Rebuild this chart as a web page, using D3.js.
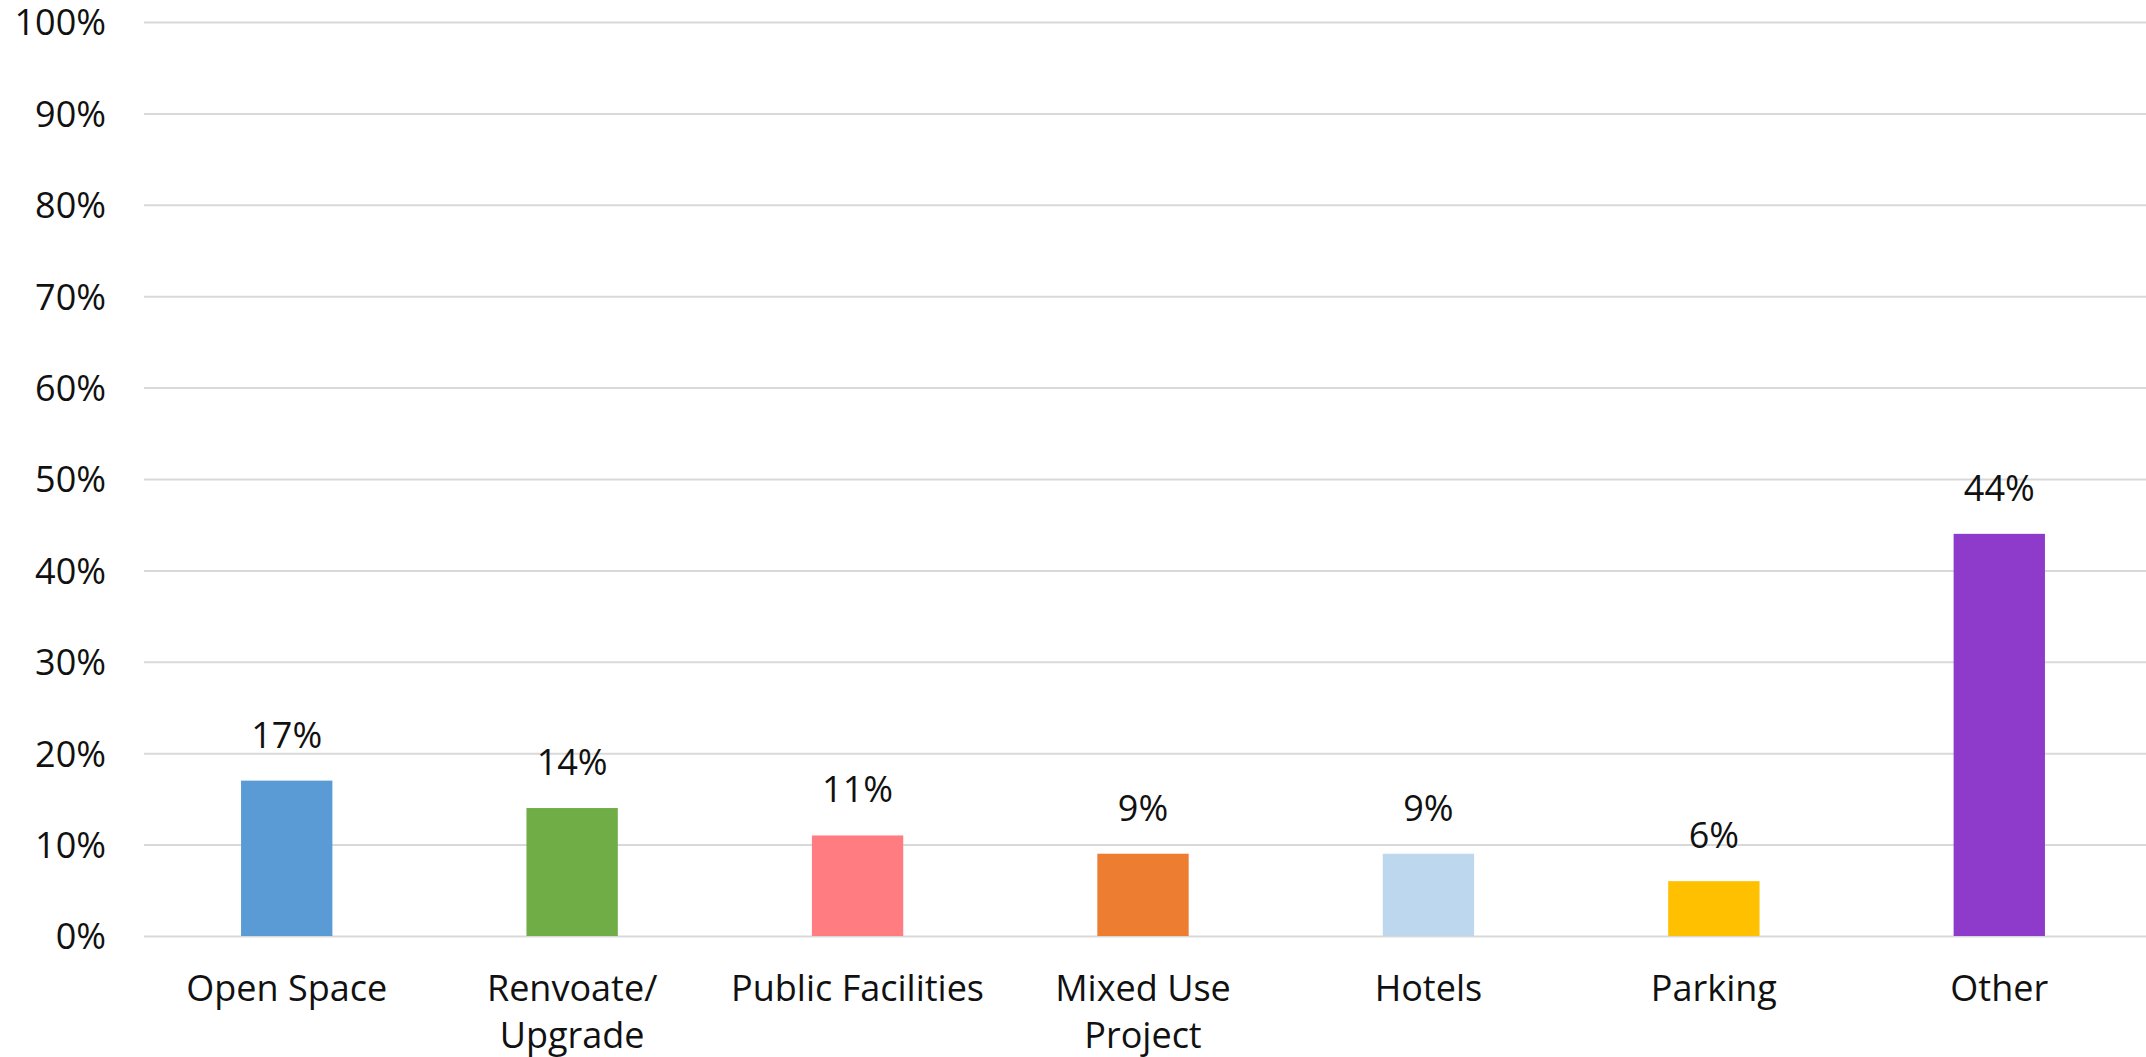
<!DOCTYPE html>
<html>
<head>
<meta charset="utf-8">
<script src="https://cdn.jsdelivr.net/npm/d3@7"></script>
<style>
  html, body { margin: 0; padding: 0; background: #fff; }
  svg { display: block; }
  text { font-family: "Open Sans", sans-serif; fill: #111; }
</style>
</head>
<body>
<svg id="chart" width="2146" height="1057"></svg>
<script>
// Share of projects by type
const categories = [["Open Space"], ["Renvoate/", "Upgrade"], ["Public Facilities"], ["Mixed Use", "Project"], ["Hotels"], ["Parking"], ["Other"]];
const values = [0.17, 0.14, 0.11, 0.09, 0.09, 0.06, 0.44];
const colors = ["#5B9BD5", "#70AD47", "#FF7C80", "#ED7D31", "#BDD7EE", "#FFC000", "#8E3BCC"];
const yTicks = [0, 0.1, 0.2, 0.3, 0.4, 0.5, 0.6, 0.7, 0.8, 0.9, 1.0];

const svg = d3.select("#chart");
const plot = { left: 144, right: 2142, top: 22, bottom: 936 };
const keys = categories.map(c => c.join(" "));

const x = d3.scaleBand().domain(keys).range([plot.left, plot.right]).paddingInner(0.68).paddingOuter(0.34);
const y = d3.scaleLinear().domain([0, 1]).range([plot.bottom, plot.top]);
const pct = d3.format(".0%");

// gridlines and y tick labels
const yAxis = d3.axisLeft(y).tickValues(yTicks).tickFormat(pct).tickSize(-(2146 - plot.left)).tickPadding(38);
const gy = svg.append("g").attr("transform", `translate(${plot.left},0)`).call(yAxis);
gy.select(".domain").remove();
gy.selectAll(".tick line").attr("stroke", "#d9d9d9").attr("stroke-width", 2);
gy.selectAll(".tick text").attr("font-size", 36).attr("font-family", "Open Sans, sans-serif").attr("fill", "#111").attr("dy", "0.36em");

// bars
svg.append("g").selectAll("rect").data(values).join("rect")
  .attr("x", (d, i) => x(keys[i]))
  .attr("width", x.bandwidth())
  .attr("y", d => y(d))
  .attr("height", d => y(0) - y(d))
  .attr("fill", (d, i) => colors[i]);

// value labels
svg.append("g").selectAll("text").data(values).join("text")
  .attr("x", (d, i) => x(keys[i]) + x.bandwidth() / 2)
  .attr("y", d => y(d) - 33)
  .attr("text-anchor", "middle")
  .attr("font-size", 36)
  .text(d => pct(d));

// category labels (wrapped)
const cat = svg.append("g").selectAll("text").data(categories).join("text")
  .attr("x", (d, i) => x(keys[i]) + x.bandwidth() / 2)
  .attr("y", 1001)
  .attr("text-anchor", "middle")
  .attr("font-size", 36);
cat.each(function(lines) {
  const t = d3.select(this);
  const cx = t.attr("x");
  lines.forEach((l, j) => {
    t.append("tspan").attr("x", cx).attr("dy", j === 0 ? 0 : 47).text(l);
  });
});
</script>
</body>
</html>
